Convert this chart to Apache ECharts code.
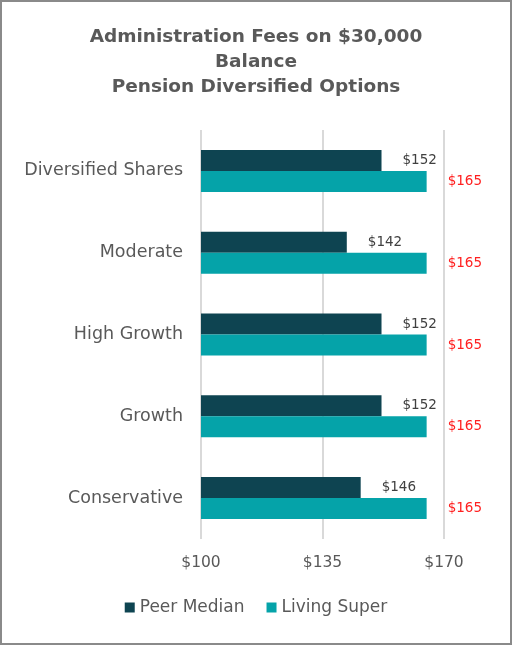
<!DOCTYPE html>
<html><head><meta charset="utf-8">
<script src="https://cdn.jsdelivr.net/npm/echarts@6/dist/echarts.min.js"></script>
<style>html,body{margin:0;padding:0;background:#fff}#c{width:512px;height:645px}</style>
</head><body><div id="c"></div>
<script>
const categories = ['Diversified Shares','Moderate','High Growth','Growth','Conservative'];
const peerMedian = [152,142,152,152,146];
const livingSuper = [165,165,165,165,165];
const xTicks = [100,135,170];
const FONT = '"DejaVu Sans", sans-serif';
const chart = echarts.init(document.getElementById('c'), null, {renderer:'canvas'});
chart.setOption({
  animation:false,
  textStyle:{fontFamily:FONT},
  title:{
    text:'Administration Fees on $30,000\nBalance\nPension Diversified Options',
    left:'center', top:20,
    textStyle:{fontFamily:FONT, fontSize:18.5, fontWeight:'bold', color:'#595959', lineHeight:25}
  },
  graphic:[{type:'rect', shape:{x:1,y:1,width:510,height:643}, style:{fill:'none', stroke:'#8a8a8a', lineWidth:2}, silent:true}],
  legend:{
    bottom:24, left:'center', itemWidth:10, itemHeight:10, itemGap:22,
    icon:'rect',
    textStyle:{fontFamily:FONT, fontSize:17, color:'#595959'},
    data:['Peer Median','Living Super']
  },
  grid:{left:201, right:68, top:130, bottom:106, containLabel:false},
  xAxis:{
    type:'value', min:xTicks[0], max:xTicks[xTicks.length-1], interval:35,
    axisLine:{show:false}, axisTick:{show:false},
    splitLine:{show:true, lineStyle:{color:'#d9d9d9', width:2}},
    axisLabel:{margin:16, fontFamily:FONT, fontSize:15.5, color:'#595959', formatter:v=>'$'+v}
  },
  yAxis:{
    type:'category', data:categories, inverse:true,
    axisLine:{show:false}, axisTick:{show:false},
    axisLabel:{margin:18, fontFamily:FONT, fontSize:17.5, color:'#595959'}
  },
  series:[
    {name:'Peer Median', type:'bar', data:peerMedian, barWidth:21, barGap:'0%',
     itemStyle:{color:'#0e4451'},
     label:{show:true, position:'right', distance:21, formatter:p=>'$'+p.value, fontFamily:FONT, fontSize:13.5, color:'#404040'}},
    {name:'Living Super', type:'bar', data:livingSuper, barWidth:21,
     itemStyle:{color:'#05a3a9'},
     label:{show:true, position:'right', distance:21, formatter:p=>'$'+p.value, fontFamily:FONT, fontSize:13.5, color:'#ff2020'}}
  ]
});
</script></body></html>
